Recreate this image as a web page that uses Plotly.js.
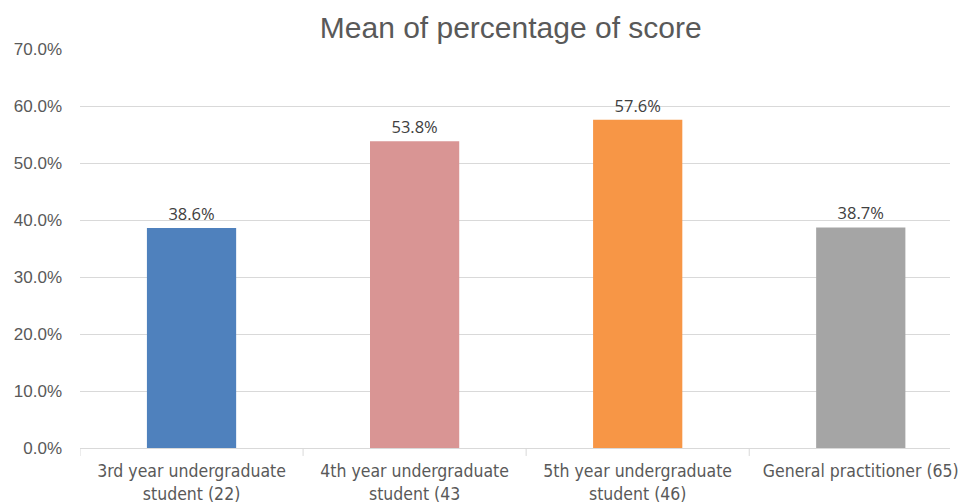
<!DOCTYPE html>
<html><head><meta charset="utf-8">
<script src="https://cdn.plot.ly/plotly-3.0.1.min.js"></script>
<style>html,body{margin:0;padding:0;background:#fff}#c{width:960px;height:504px}</style>
</head><body><div id="c"></div>
<script>
var categories = ["3rd year undergraduate<br>student (22)", "4th year undergraduate<br>student (43", "5th year undergraduate<br>student (46)", "General practitioner (65)"];
var values = [0.386, 0.538, 0.576, 0.387];
var colors = ["#4f81bd", "#d99594", "#f79646", "#a5a5a5"];
var yTicks = [0, 0.1, 0.2, 0.3, 0.4, 0.5, 0.6, 0.7];

var trace = {
  type: "bar",
  x: [0, 1, 2, 3],
  y: values,
  width: 0.4,
  marker: {color: colors},
  text: values.map(function(v){ return (v*100).toFixed(1) + "%"; }),
  textposition: "outside",
  cliponaxis: false,
  textfont: {family: "Open Sans, DejaVu Sans, sans-serif", size: 16.5, color: "#404040"},
  hoverinfo: "none"
};

var layout = {
  width: 960, height: 504,
  margin: {l: 80, r: 10, t: 49, b: 56},
  paper_bgcolor: "#fff", plot_bgcolor: "#fff",
  showlegend: false,
  title: {text: "Mean of percentage of score", x: 0.532, xanchor: "center", y: 0.945, yanchor: "middle",
          font: {family: "Liberation Sans, Arial, sans-serif", size: 30, color: "#595959"}},
  xaxis: {
    range: [-0.5, 3.4],
    tickmode: "array", tickvals: [0, 1, 2, 3], ticktext: categories,
    showgrid: false, zeroline: false,
    showline: true, linecolor: "#d9d9d9", linewidth: 1,
    ticks: "", ticklabelstandoff: 7, ticklabeloverflow: "allow",
    tickfont: {family: "Liberation Sans Narrow, Arial Narrow, DejaVu Sans Condensed, sans-serif", size: 17.5, color: "#595959"}
  },
  yaxis: {
    range: [0, 0.7],
    tickmode: "array", tickvals: yTicks,
    ticktext: yTicks.map(function(v){ return (v*100).toFixed(1) + "%"; }),
    showgrid: true, gridcolor: "#d9d9d9", gridwidth: 1,
    zeroline: false, showline: false, ticks: "",
    ticklabelstandoff: 17,
    tickfont: {family: "Liberation Sans, Arial, sans-serif", size: 17, color: "#595959"}
  },
  shapes: [0.5, 1.5, 2.5].concat([-0.5]).map(function(v){
    return {type: "line", xref: "x", yref: "paper", x0: v, x1: v, y0: 0, y1: -0.02,
            line: {color: "#d9d9d9", width: 1}};
  })
};

Plotly.newPlot("c", [trace], layout, {displayModeBar: false, staticPlot: true});
</script></body></html>
